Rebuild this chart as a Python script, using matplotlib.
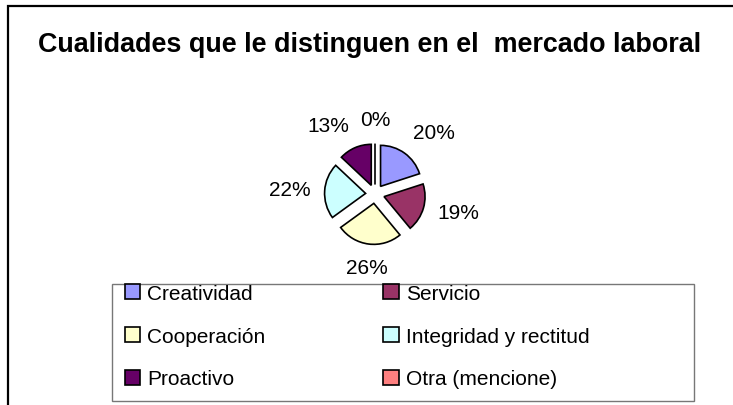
import numpy as np
import matplotlib.pyplot as plt
from matplotlib.patches import Rectangle, Patch

# data
categorias = ["Creatividad", "Servicio", "Cooperación",
              "Integridad y rectitud", "Proactivo", "Otra (mencione)"]
porcentajes = [20, 19, 26, 22, 13, 0]
colores = ["#9999FF", "#993366", "#FFFFCC", "#CCFFFF", "#660066", "#FF8080"]
titulo = "Cualidades que le distinguen en el  mercado laboral"

plt.rcParams['font.family'] = ['Liberation Sans', 'DejaVu Sans']

W, H = 733, 406
fig = plt.figure(figsize=(W / 100, H / 100), dpi=100)

# outer frame (open to the right / bottom like the original)
fig.patches.append(Rectangle((8 / W, -0.1), 1.2, 1.1 - 7 / H, transform=fig.transFigure,
                             fill=False, edgecolor='black', linewidth=1.6))

fig.text(370 / W, 1 - 45 / H, titulo, ha='center', va='center',
         fontsize=19.4, fontweight='bold')

# pie: radius 41 px, centre at (375, 195) px
R = 41
cx, cy = 375, H - 195
ax = fig.add_axes([(cx - 1.25 * R) / W, (cy - 1.25 * R) / H, 2.5 * R / W, 2.5 * R / H])
wedges, textos, pcts = ax.pie(porcentajes, colors=colores, startangle=90, counterclock=False,
                              explode=[0.23] * len(porcentajes),
                              autopct='%1.0f%%', pctdistance=1.35,
                              wedgeprops=dict(edgecolor='black', linewidth=1.2),
                              textprops=dict(fontsize=15))
ax.set_aspect('equal')

# labels sit outside the slice, aligned away from the pie
for w, t in zip(wedges, pcts):
    ang = np.deg2rad((w.theta1 + w.theta2) / 2)
    c, s = np.cos(ang), np.sin(ang)
    t.set_ha('center' if abs(c) < 0.3 else ('left' if c > 0 else 'right'))
    t.set_va('center' if abs(s) < 0.35 else ('bottom' if s > 0 else 'top'))

# legend box
fig.patches.append(Rectangle((112 / W, 1 - 402 / H), 582 / W, 117 / H, transform=fig.transFigure,
                             fill=False, edgecolor='#777777', linewidth=1.0))

handles = [Patch(facecolor=c, edgecolor='black', linewidth=1.2) for c in colores]
orden = [0, 2, 4, 1, 3, 5]
fig.legend([handles[i] for i in orden], [categorias[i] for i in orden],
           ncol=2, loc='upper left', bbox_to_anchor=(110 / W, 1 - 270 / H),
           frameon=False, fontsize=15, handlelength=0.75, handleheight=0.75,
           handletextpad=0.35, labelspacing=1.15, columnspacing=5.65, borderpad=0.2)

fig.savefig('out.png', dpi=100)
